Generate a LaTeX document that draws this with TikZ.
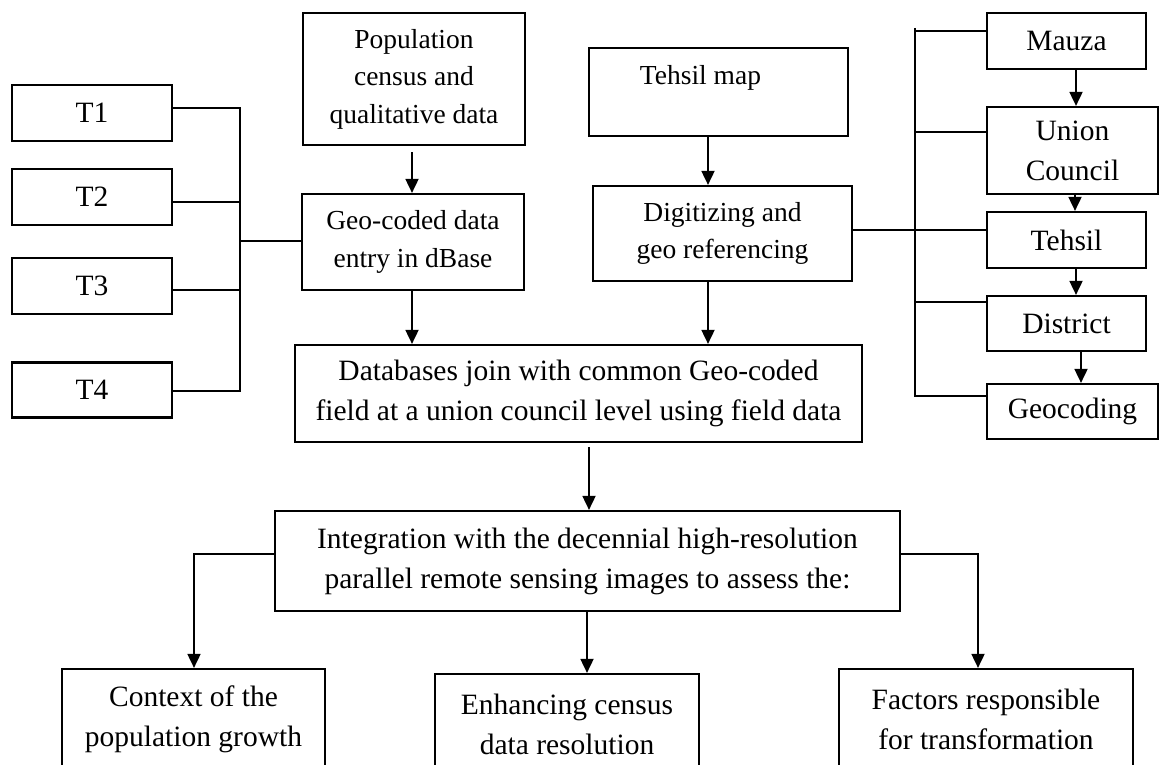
\documentclass[tikz,border=0pt]{standalone}
\usepackage{fontspec}
\setmainfont{Liberation Serif}
\usetikzlibrary{arrows.meta}
\begin{document}
\begin{tikzpicture}[x=1pt,y=-1pt,
  box/.style={draw,line width=2.2pt,rectangle,align=center,inner sep=0pt,
    font=\fontsize{29.5}{40}\selectfont},
  smallbox/.style={box,font=\fontsize{27.5}{37.5}\selectfont},
  conn/.style={line width=1.8pt},
  arr/.style={line width=1.8pt,-{Triangle[length=14pt,width=13pt]}}]
\useasboundingbox (0,0) rectangle (1167,765);
\clip (0,0) rectangle (1167,765);
% left T boxes
\node[box,minimum width=160,minimum height=56] (T1) at (92,113) {T1};
\node[box,minimum width=160,minimum height=56] (T2) at (92,197) {T2};
\node[box,minimum width=160,minimum height=56] (T3) at (92,286) {T3};
\node[box,minimum width=160,minimum height=55] (T4) at (92,390) {T4};
% top middle
\node[smallbox,minimum width=222,minimum height=132] (Pop) at (414,79) {Population\\census and\\qualitative data};
\node[smallbox,minimum width=222,minimum height=96] (Geo) at (413,242) {Geo-coded data\\entry in dBase};
\node[smallbox,minimum width=259,minimum height=88] (TMap) at (718.5,92) {\raisebox{14pt}[\height][\depth]{Tehsil map\hspace{36pt}}};
\node[smallbox,minimum width=259,minimum height=95] (Dig) at (722.5,233.5) {Digitizing and\\geo referencing};
\node[box,minimum width=567,minimum height=97] (DB) at (578.5,393.5) {Databases join with common Geo-coded\\field at a union council level using field data};
\node[box,minimum width=625,minimum height=100] (Int) at (587.5,561) {Integration with the decennial high-resolution\\parallel remote sensing images to assess the:};
% bottom
\node[box,minimum width=263,minimum height=100] (Ctx) at (193.5,719) {Context of the\\population growth};
\node[box,minimum width=264,minimum height=100] (Enh) at (567,724) {Enhancing census\\data resolution};
\node[box,minimum width=294,minimum height=100] (Fac) at (986,719) {Factors responsible\\for transformation};
% right column
\node[box,minimum width=159,minimum height=56] (Mau) at (1066.5,41) {Mauza};
\node[box,minimum width=171,minimum height=87] (UC) at (1072.5,150.5) {Union\\Council};
\node[box,minimum width=159,minimum height=56] (Teh) at (1066.5,240) {Tehsil};
\node[box,minimum width=159,minimum height=55] (Dis) at (1066.5,323.5) {District};
\node[box,minimum width=171,minimum height=55] (Gcd) at (1072.5,411.5) {Geocoding};
% left bus
\coordinate (bl1) at (240,108);
\coordinate (bl2) at (240,202);
\coordinate (bl3) at (240,290);
\coordinate (bl4) at (240,391);
\coordinate (blg) at (240,241);
\draw[conn] (bl1 -| T1.east) -- (bl1) -- (bl4) -- (bl4 -| T4.east);
\draw[conn] (bl2 -| T2.east) -- (bl2);
\draw[conn] (bl3 -| T3.east) -- (bl3);
\draw[conn] (blg) -- (blg -| Geo.west);
% vertical arrows top
\draw[arr,shorten <=6pt] (Pop.south -| 412,0) -- (Geo.north -| 412,0);
\draw[arr] (TMap.south -| 708,0) -- (Dig.north -| 708,0);
\draw[arr] (Geo.south -| 412,0) -- (DB.north -| 412,0);
\draw[arr] (Dig.south -| 708,0) -- (DB.north -| 708,0);
\draw[arr,shorten <=4pt] (DB.south -| 589,0) -- (Int.north -| 589,0);
% bottom branches
\coordinate (bbl) at (194,554);
\coordinate (bbr) at (978,554);
\draw[arr] (bbl -| Int.west) -- (bbl) -- (bbl |- Ctx.north);
\draw[arr] (bbr -| Int.east) -- (bbr) -- (bbr |- Fac.north);
\draw[arr] (Int.south -| 587,0) -- (Enh.north -| 587,0);
% right bus
\coordinate (br0) at (915,28);
\coordinate (br1) at (915,31);
\coordinate (br2) at (915,132);
\coordinate (br3) at (915,230);
\coordinate (br4) at (915,302);
\coordinate (br5) at (915,396);
\draw[conn] (br0) -- (br5) -- (br5 -| Gcd.west);
\draw[conn] (br1) -- (br1 -| Mau.west);
\draw[conn] (br2) -- (br2 -| UC.west);
\draw[conn] (br3 -| Dig.east) -- (br3 -| Teh.west);
\draw[conn] (br4) -- (br4 -| Dis.west);
% right column arrows
\draw[arr] (Mau.south -| 1076,0) -- (UC.north -| 1076,0);
\draw[arr] (UC.south -| 1075,0) -- (Teh.north -| 1075,0);
\draw[arr] (Teh.south -| 1076,0) -- (Dis.north -| 1076,0);
\draw[arr] (Dis.south -| 1081,0) -- (Gcd.north -| 1081,0);
\end{tikzpicture}
\end{document}
